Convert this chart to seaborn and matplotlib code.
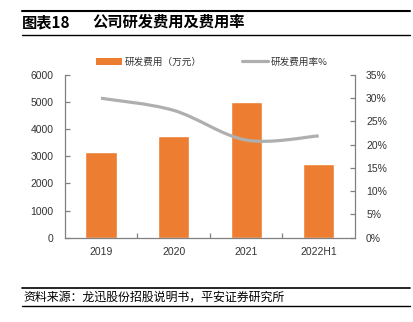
import matplotlib
matplotlib.use("Agg")
import matplotlib.pyplot as plt
import seaborn as sns
import numpy as np
import pandas as pd
from matplotlib.path import Path
from matplotlib.patches import PathPatch, Patch
from matplotlib.lines import Line2D
from matplotlib.ticker import FixedLocator, PercentFormatter

years = ["2019", "2020", "2021", "2022H1"]
rd_expense = [3150, 3750, 5000, 2710]          # 万元
rd_ratio = [30.0, 27.4, 21.0, 21.9]           # %

left_ticks = [0, 1000, 2000, 3000, 4000, 5000, 6000]
right_ticks = [0, 5, 10, 15, 20, 25, 30, 35]

title_num = "图表18"
title_text = "公司研发费用及费用率"
source_text = "资料来源：龙迅股份招股说明书，平安证券研究所"
bar_label = "研发费用（万元）"
line_label = "研发费用率%"

ORANGE = "#ED7D31"
GRAY = "#AFAFAF"
SPINE = "#808080"
TXT = "#333333"

sns.set_theme(style="white")
plt.rcParams['font.family'] = ['Liberation Sans', 'Noto Sans CJK SC', 'DejaVu Sans']
cjk = ['Noto Sans CJK SC', 'DejaVu Sans']

fig = plt.figure(figsize=(4.13, 3.22), dpi=100)
ax = fig.add_axes([64.7/413, 1-237.7/322, (355-64.7)/413, (237.7-75)/322])

df = pd.DataFrame({"year": years, "rd": rd_expense})
sns.barplot(data=df, x="year", y="rd", color=ORANGE, saturation=1, width=0.43, ax=ax)
ax.set_xlim(-0.5, 3.5)
ax.set_ylim(0, 6000)
ax.set_yticks(left_ticks)
ax.set_xlabel("")
ax.set_ylabel("")

ax2 = ax.twinx()
ax2.set_ylim(0, 35)
ax2.set_yticks(right_ticks)
ax2.yaxis.set_major_formatter(PercentFormatter(decimals=0))

# smoothed line (Catmull-Rom as Bezier curves) through data points
xs = np.arange(len(years), dtype=float)
ys = np.array(rd_ratio, dtype=float)
pts = np.column_stack([xs, ys])
ext = np.vstack([pts[0], pts, pts[-1]])
verts = [tuple(pts[0])]
codes = [Path.MOVETO]
for i in range(len(pts) - 1):
    p0, p1, p2, p3 = ext[i], ext[i+1], ext[i+2], ext[i+3]
    c1 = p1 + (p2 - p0) / 6
    c2 = p2 - (p3 - p1) / 6
    verts += [tuple(c1), tuple(c2), tuple(p2)]
    codes += [Path.CURVE4] * 3
ax2.add_patch(PathPatch(Path(verts, codes), facecolor="none", edgecolor=GRAY,
                        lw=2.3, capstyle="butt", zorder=3))
ax2.set_xlim(-0.5, 3.5)

for a in (ax, ax2):
    for s in a.spines.values():
        s.set_color(SPINE)
        s.set_linewidth(0.9)
    a.spines["top"].set_visible(False)
    a.tick_params(axis="y", direction="in", length=3.5, width=0.9, color=SPINE,
                  labelsize=7.5, labelcolor=TXT, pad=8)
ax.spines["right"].set_visible(False)
ax2.spines["left"].set_visible(False)
ax2.spines["bottom"].set_visible(False)
ax2.grid(False)
ax.grid(False)

ax.tick_params(axis="x", which="major", length=0, labelsize=7.5, labelcolor=TXT, pad=7)
ax.xaxis.set_minor_locator(FixedLocator([0.5, 1.5, 2.5]))
ax.tick_params(axis="x", which="minor", direction="in", length=3.5, width=0.9,
               color=SPINE, bottom=True)

# legend
handles = [Patch(facecolor=ORANGE, edgecolor="none", label=bar_label),
           Line2D([0], [0], color=GRAY, lw=2.3, label=line_label)]
leg = fig.legend(handles=handles, loc="center left", bbox_to_anchor=(96/413, 1-62/322),
                 ncol=2, frameon=False, prop={"family": cjk, "size": 6.9},
                 handlelength=2.7, handleheight=0.8, handletextpad=0.25,
                 columnspacing=4.3, borderpad=0, borderaxespad=0)
for t in leg.get_texts():
    t.set_color(TXT)

# title and rules
fig.text(22/413, 1-22/322, title_num, fontsize=11, fontweight="bold",
         family=cjk, va="center", ha="left", color="#000000")
fig.text(92/413, 1-22/322, title_text, fontsize=11, fontweight="bold",
         family=cjk, va="center", ha="left", color="#000000")
fig.add_artist(Line2D([22/413, 410/413], [1-11/322, 1-11/322], color="black", lw=1.5))
fig.add_artist(Line2D([22/413, 410/413], [1-35/322, 1-35/322], color="black", lw=1.0))

fig.text(23/413, 1-297/322, source_text, fontsize=8.6, family=cjk,
         va="center", ha="left", color="#000000", style="italic")
fig.add_artist(Line2D([22/413, 410/413], [1-287.7/322, 1-287.7/322], color="black", lw=1.2))
fig.add_artist(Line2D([22/413, 410/413], [1-306/322, 1-306/322], color="black", lw=1.0))

fig.savefig("out.png", dpi=100)
